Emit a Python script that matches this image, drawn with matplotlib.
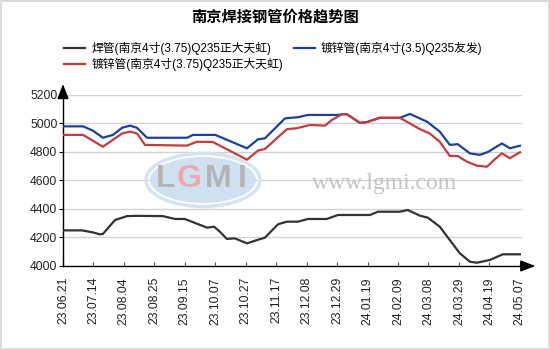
import matplotlib
matplotlib.use('Agg')
import matplotlib.pyplot as plt
import matplotlib.patches as patches
import numpy as np

plt.rcParams['font.family'] = ['Liberation Sans', 'Noto Sans CJK SC', 'DejaVu Sans']

# tick dates (equally spaced on the category axis)
dates = ['23.06.21', '23.07.14', '23.08.04', '23.08.25', '23.09.15', '23.10.07',
         '23.10.27', '23.11.17', '23.12.08', '23.12.29', '24.01.19', '24.02.09',
         '24.03.08', '24.03.29', '24.04.19', '24.05.07']

# positions are in units of tick intervals (0 = 23.06.21, 15 = 24.05.07)
weld_x = [0, 0.62, 1.0, 1.21, 1.31, 1.71, 2.10, 2.4, 3.28, 3.68, 4.0, 4.73, 4.96,
          5.15, 5.38, 5.64, 6.04, 6.37, 6.63, 7.06, 7.35, 7.71, 8.04, 8.66, 9.03,
          10.08, 10.34, 11.06, 11.32, 11.72, 11.98, 12.37, 12.70, 13.03, 13.36,
          13.59, 14.01, 14.44, 15.0]
weld_y = [4250, 4250, 4235, 4222, 4225, 4323, 4350, 4352, 4350, 4330, 4330, 4269, 4276,
          4241, 4190, 4194, 4159, 4182, 4199, 4293, 4311, 4311, 4330, 4330, 4358,
          4358, 4381, 4381, 4393, 4353, 4339, 4276, 4182, 4089, 4030,
          4023, 4042, 4082, 4082]

galv35_x = [0, 0.66, 0.98, 1.31, 1.64, 1.94, 2.20, 2.43, 2.76, 3.18, 4.07, 4.27, 5.0,
            6.04, 6.40, 6.63, 7.29, 7.71, 8.04, 9.03, 9.16, 9.32, 9.75, 9.98, 10.40,
            11.06, 11.39, 11.95, 12.37, 12.70, 12.96, 13.36, 13.69, 13.95, 14.41,
            14.67, 15.0]
galv35_y = [4980, 4980, 4950, 4900, 4920, 4970, 4985, 4970, 4900, 4900, 4900, 4920, 4920,
            4826, 4889, 4896, 5036, 5044, 5060, 5060, 5065, 5065, 5004, 5010, 5040,
            5040, 5067, 5013, 4943, 4850, 4855, 4790, 4780, 4800, 4860,
            4826, 4844]

galv375_x = [0, 0.66, 1.31, 1.94, 2.20, 2.43, 2.69, 3.18, 4.07, 4.40, 4.92, 6.04, 6.40,
             6.63, 7.35, 7.68, 8.11, 8.60, 8.83, 9.16, 9.32, 9.75, 9.98, 10.40, 11.06,
             11.72, 12.04, 12.37, 12.70, 12.96, 13.26, 13.59, 13.92, 14.18, 14.41,
             14.67, 15.0]
galv375_y = [4920, 4920, 4837, 4930, 4943, 4930, 4850, 4848, 4845, 4872, 4870, 4746, 4810,
             4821, 4960, 4967, 4990, 4985, 5025, 5065, 5065, 5004, 5010, 5040, 5040,
             4960, 4930, 4872, 4772, 4772, 4732, 4704, 4697, 4749, 4791,
             4756, 4798]

yticks = [4000, 4200, 4400, 4600, 4800, 5000, 5200]

fig = plt.figure(figsize=(5.5, 3.5), dpi=100)
fig.patch.set_facecolor('white')
fig.add_artist(patches.Rectangle((0.001, 0.002), 0.997, 0.995, transform=fig.transFigure,
                                 fill=False, edgecolor='#d4d4d4', linewidth=1.2))

ax = fig.add_axes([63 / 550, 84 / 350, 459 / 550, 171 / 350])
ax.set_xlim(0, 15.07)
ax.set_ylim(4000, 5200)

ax.set_yticks(yticks)
ax.yaxis.grid(True, color='#d2d2d2', linewidth=1)
ax.set_axisbelow(True)
ax.set_xticks(range(len(dates)))
ax.set_xticklabels(dates, rotation=90, fontsize=8.8, color='#222222')
ax.tick_params(axis='y', direction='out', length=3, pad=1, labelsize=8.8, labelcolor='#222222')
ax.tick_params(axis='x', direction='in', length=3, pad=8, color='#555555')

for s in ['top', 'right']:
    ax.spines[s].set_visible(False)
for s in ['left', 'bottom']:
    ax.spines[s].set_color('black')
    ax.spines[s].set_linewidth(1)

# axis arrows
ax.annotate('', xy=(1.035, 0), xycoords='axes fraction', xytext=(0.99, 0),
            arrowprops=dict(arrowstyle='-|>,head_length=0.9,head_width=0.35',
                            color='black', lw=1), annotation_clip=False)
ax.annotate('', xy=(0, 1.08), xycoords='axes fraction', xytext=(0, 0.98),
            arrowprops=dict(arrowstyle='-|>,head_length=0.9,head_width=0.35',
                            color='black', lw=1), annotation_clip=False)

# watermark
ell_out = patches.Ellipse((203 / 550, 1 - 180 / 350), 114 / 550, 53 / 350,
                          transform=fig.transFigure, facecolor='none',
                          edgecolor='#d6e4f2', linewidth=2.5, zorder=1.5)
ell = patches.Ellipse((203 / 550, 1 - 180 / 350), 106 / 550, 46 / 350,
                      transform=fig.transFigure, facecolor='#cfe0f1',
                      edgecolor='none', zorder=1.5)
fig.add_artist(ell_out)
fig.add_artist(ell)
logo = [('L', 166, '#b4b4b4'), ('G', 189, '#eaa9ab'), ('M', 218, '#b4b4b4'), ('I', 242, '#b4b4b4')]
for ch, px, col in logo:
    fig.text(px / 550, 1 - 179 / 350, ch, fontsize=23, fontweight='bold', color=col,
             ha='center', va='center', family='Liberation Sans')
fig.text(385 / 550, 1 - 183 / 350, 'www.lgmi.com', fontsize=17, color='#c4c4c4',
         ha='center', va='center', family='Liberation Serif')

l1, = ax.plot(weld_x, weld_y, color='#333333', lw=1.6, solid_joinstyle='round', zorder=3,
              label='焊管(南京4寸(3.75)Q235正大天虹)')
l3, = ax.plot(galv35_x, galv35_y, color='#1c4199', lw=1.6, solid_joinstyle='round', zorder=3,
              label='镀锌管(南京4寸(3.5)Q235友发)')
l2, = ax.plot(galv375_x, galv375_y, color='#c63b3d', lw=1.6, solid_joinstyle='round', zorder=4,
              label='镀锌管(南京4寸(3.75)Q235正大天虹)')

fig.legend(handles=[l1, l2, l3], ncol=2, loc='upper left',
           bbox_to_anchor=(64 / 550, 1 - 42 / 350), frameon=False, fontsize=8.5,
           handlelength=1.8, handletextpad=0.5, columnspacing=0.9,
           labelspacing=0.2, borderpad=0, borderaxespad=0)

fig.text(0.5, 1 - 17 / 350, '南京焊接钢管价格趋势图', ha='center', va='center',
         fontsize=11, fontweight='bold', family=['Noto Sans CJK SC'])

fig.savefig('out.png', dpi=100, facecolor='white')
